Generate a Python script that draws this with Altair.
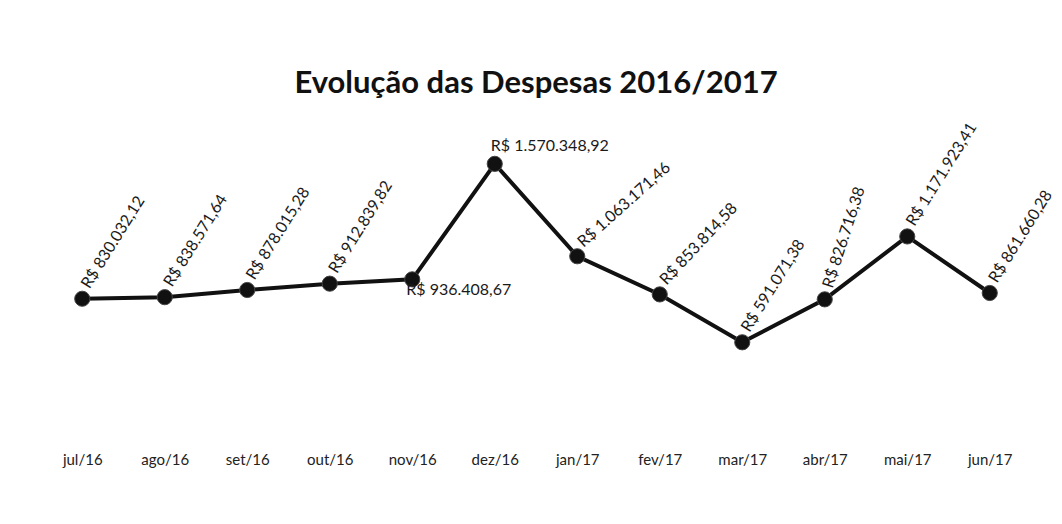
import math
import altair as alt
import pandas as pd

meses = ["jul/16", "ago/16", "set/16", "out/16", "nov/16", "dez/16",
         "jan/17", "fev/17", "mar/17", "abr/17", "mai/17", "jun/17"]
despesas = [830032.12, 838571.64, 878015.28, 912839.82, 936408.67, 1570348.92,
            1063171.46, 853814.58, 591071.38, 826716.38, 1171923.41, 861660.28]


def brl(v):
    s = f"{v:,.2f}"
    s = s.replace(",", "X").replace(".", ",").replace("X", ".")
    return "R$ " + s


df = pd.DataFrame({"mes": meses, "valor": despesas,
                   "rotulo": [brl(v) for v in despesas]})

FONT = "Lato"
LBL = 16

x = alt.X("mes:N", sort=meses, title=None,
          axis=alt.Axis(labelAngle=0, domain=False, ticks=False, labelPadding=2,
                        labelFont=FONT, labelFontSize=15, labelColor="#222222",
                        grid=False))
y = alt.Y("valor:Q", scale=alt.Scale(domain=[0, 1800000]), axis=None)

base = alt.Chart(df).encode(x=x, y=y)

line = base.mark_line(color="#111111", strokeWidth=4)
pts = base.mark_circle(size=230, color="#111111", opacity=1,
                       stroke="#444444", strokeWidth=1)


def rotated(months, rise_deg, ox=3.0, oy=-12.0):
    a = math.radians(-rise_deg)
    ux, uy = math.cos(a), math.sin(a)
    vx, vy = -math.sin(a), math.cos(a)
    dx = ox * ux + oy * uy
    dy = ox * vx + oy * vy
    return base.transform_filter(
        alt.FieldOneOfPredicate(field="mes", oneOf=months)
    ).mark_text(angle=(360 - rise_deg) % 360, align="left", baseline="middle",
                dx=dx, dy=dy, font=FONT, fontSize=LBL,
                color="#1a1a1a").encode(text="rotulo:N")


rot_std = rotated(["jul/16", "ago/16", "set/16", "out/16", "mar/17",
                   "mai/17", "jun/17"], 58)
rot_jan = rotated(["jan/17"], 42)
rot_fev = rotated(["fev/17"], 47)
rot_abr = rotated(["abr/17"], 72)

nov = base.transform_filter(alt.datum.mes == "nov/16").mark_text(
    align="left", baseline="middle", dx=-6, dy=11,
    font=FONT, fontSize=LBL, color="#1a1a1a").encode(text="rotulo:N")

dez = base.transform_filter(alt.datum.mes == "dez/16").mark_text(
    align="left", baseline="middle", dx=-4, dy=-18,
    font=FONT, fontSize=LBL, color="#1a1a1a").encode(text="rotulo:N")

chart = alt.layer(line, pts, rot_std, rot_jan, rot_fev, rot_abr, nov, dez).properties(
    width=990, height=328,
    background="white",
    title=alt.TitleParams("Evolução das Despesas 2016/2017", font=FONT,
                          fontSize=31, fontWeight="bold", color="#111111",
                          anchor="middle", offset=20),
    autosize=alt.AutoSizeParams(type="none"),
    padding={"left": 41, "top": 122, "right": 31, "bottom": 74},
).configure_view(strokeWidth=0, stroke=None)

chart.save("out.html", embed_options={"renderer": "svg", "actions": False})
